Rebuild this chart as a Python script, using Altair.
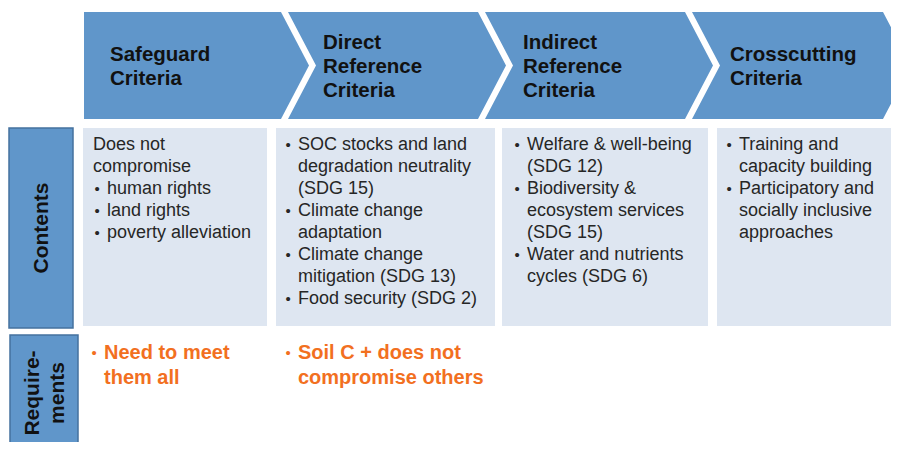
import altair as alt
import pandas as pd

# ---------------- data (text content) ----------------
stages = ["Safeguard Criteria", "Direct Reference Criteria",
          "Indirect Reference Criteria", "Crosscutting Criteria"]
header_lines = [["Safeguard", "Criteria"],
                ["Direct", "Reference", "Criteria"],
                ["Indirect", "Reference", "Criteria"],
                ["Crosscutting", "Criteria"]]
row_labels = [["Contents"], ["Require-", "ments"]]

contents = [
    [("", ["Does not", "compromise"]), ("•", ["human rights"]),
     ("•", ["land rights"]), ("•", ["poverty alleviation"])],
    [("•", ["SOC stocks and land", "degradation neutrality", "(SDG 15)"]),
     ("•", ["Climate change", "adaptation"]),
     ("•", ["Climate change", "mitigation (SDG 13)"]),
     ("•", ["Food security (SDG 2)"])],
    [("•", ["Welfare & well-being", "(SDG 12)"]),
     ("•", ["Biodiversity &", "ecosystem services", "(SDG 15)"]),
     ("•", ["Water and nutrients", "cycles (SDG 6)"])],
    [("•", ["Training and", "capacity building"]),
     ("•", ["Participatory and", "socially inclusive", "approaches"])],
]
requirements = [
    [("•", ["Need to meet", "them all"])],
    [("•", ["Soil C + does not", "compromise others"])],
    [],
    [],
]

# ---------------- layout & style ----------------
W, H = 883, 434
OX, OY = 8, 8
BLUE = "#6096ca"
BLUE_EDGE = "#44719f"
LIGHT = "#dee6f1"
ORANGE = "#f2701f"
FONT = "Liberation Sans"

chev_x = [(84, 281), (288, 478), (485, 685), (692, 883)]
chev_top, chev_bot, chev_depth = 12, 119, 28
box_x = [(83, 267), (276, 495), (502, 708), (717, 892)]
box_y = (128, 326)
side_boxes = [(9, 73, 128, 328), (10, 78, 335, 470)]
text_x = [107, 298, 527, 739]
plain_x = [93, 287, 517, 729]
req_text_x = [104, 298, 0, 0]
header_x = [110, 323, 523, 730]

xscale = alt.Scale(domain=[OX, OX + W], nice=False, zero=False)
yscale = alt.Scale(domain=[OY, OY + H], nice=False, zero=False, reverse=True)


def X(f):
    return alt.X(f, type="quantitative", scale=xscale, axis=None)


def Y(f):
    return alt.Y(f, type="quantitative", scale=yscale, axis=None)


# chevrons
mid = (chev_top + chev_bot) / 2
chev_rows = []
for i, (s, (x0, x1)) in enumerate(zip(stages, chev_x)):
    notch = 0 if i == 0 else chev_depth
    for yy, f in [(chev_top, 0), (mid, 1), (chev_bot, 0)]:
        chev_rows.append({"stage": s, "y": yy, "xl": x0 + notch * f,
                          "xr": x1 + chev_depth * f})
chevrons = alt.Chart(pd.DataFrame(chev_rows)).mark_area(
    orient="horizontal", color=BLUE).encode(
    y=Y("y"), x=X("xl"), x2="xr", detail="stage:N")

# content boxes
box_rows = [{"stage": s, "x": a, "x2": b, "y": box_y[0], "y2": box_y[1]}
            for s, (a, b) in zip(stages, box_x)]
boxes = alt.Chart(pd.DataFrame(box_rows)).mark_rect(color=LIGHT).encode(
    x=X("x"), x2="x2", y=Y("y"), y2="y2")

side_rows = [{"label": " ".join(l), "x": a, "x2": b, "y": c, "y2": d}
             for l, (a, b, c, d) in zip(row_labels, side_boxes)]
sides = alt.Chart(pd.DataFrame(side_rows)).mark_rect(
    color=BLUE, stroke=BLUE_EDGE, strokeWidth=1.5).encode(
    x=X("x"), x2="x2", y=Y("y"), y2="y2")

# header text
hdr = []
for i, lines in enumerate(header_lines):
    n = len(lines)
    for j, t in enumerate(lines):
        hdr.append({"x": header_x[i], "y": mid + 1 + (j - (n - 1) / 2) * 24, "t": t})
headers = alt.Chart(pd.DataFrame(hdr)).mark_text(
    align="left", baseline="middle", font=FONT, fontSize=20.5,
    fontWeight="bold", color="#111111").encode(x=X("x"), y=Y("y"), text="t:N")

# contents text
cont, bul = [], []
for i, items in enumerate(contents):
    yy = 145
    for b, lines in items:
        if b:
            bul.append({"x": text_x[i] - 10, "y": yy, "t": b})
        for t in lines:
            cont.append({"x": text_x[i] if b else plain_x[i], "y": yy, "t": t})
            yy += 22
content_text = alt.Chart(pd.DataFrame(cont)).mark_text(
    align="left", baseline="middle", font=FONT, fontSize=18,
    color="#262626").encode(x=X("x"), y=Y("y"), text="t:N")
bullet_text = alt.Chart(pd.DataFrame(bul)).mark_text(
    align="center", baseline="middle", font=FONT, fontSize=15,
    color="#262626").encode(x=X("x"), y=Y("y"), text="t:N")

# requirements text
req, rbul = [], []
for i, items in enumerate(requirements):
    yy = 353
    for b, lines in items:
        rbul.append({"x": req_text_x[i] - 10, "y": yy, "t": b})
        for t in lines:
            req.append({"x": req_text_x[i], "y": yy, "t": t})
            yy += 25
req_text = alt.Chart(pd.DataFrame(req)).mark_text(
    align="left", baseline="middle", font=FONT, fontSize=20,
    fontWeight="bold", color=ORANGE).encode(x=X("x"), y=Y("y"), text="t:N")
req_bul = alt.Chart(pd.DataFrame(rbul)).mark_text(
    align="center", baseline="middle", font=FONT, fontSize=15,
    color=ORANGE).encode(x=X("x"), y=Y("y"), text="t:N")

# rotated row labels
lab = []
for lines, (a, b, c, d) in zip(row_labels, side_boxes):
    n = len(lines)
    cy = (c + min(d, 450)) / 2 if n == 1 else 393
    cx = (a + b) / 2 + 1
    for j, t in enumerate(lines):
        lab.append({"x": cx + (j - (n - 1) / 2) * 25, "y": cy, "t": t})
labels = alt.Chart(pd.DataFrame(lab)).mark_text(
    align="center", baseline="middle", font=FONT, fontSize=21,
    fontWeight="bold", angle=270, color="#111111").encode(
    x=X("x"), y=Y("y"), text="t:N")

chart = alt.layer(chevrons, boxes, sides, headers, content_text, bullet_text,
                  req_text, req_bul, labels).properties(
    width=W, height=H, padding=0,
    autosize=alt.AutoSizeParams(type="none")
).configure_view(stroke=None)

chart.save("out.html", embed_options={"renderer": "svg", "actions": False})
